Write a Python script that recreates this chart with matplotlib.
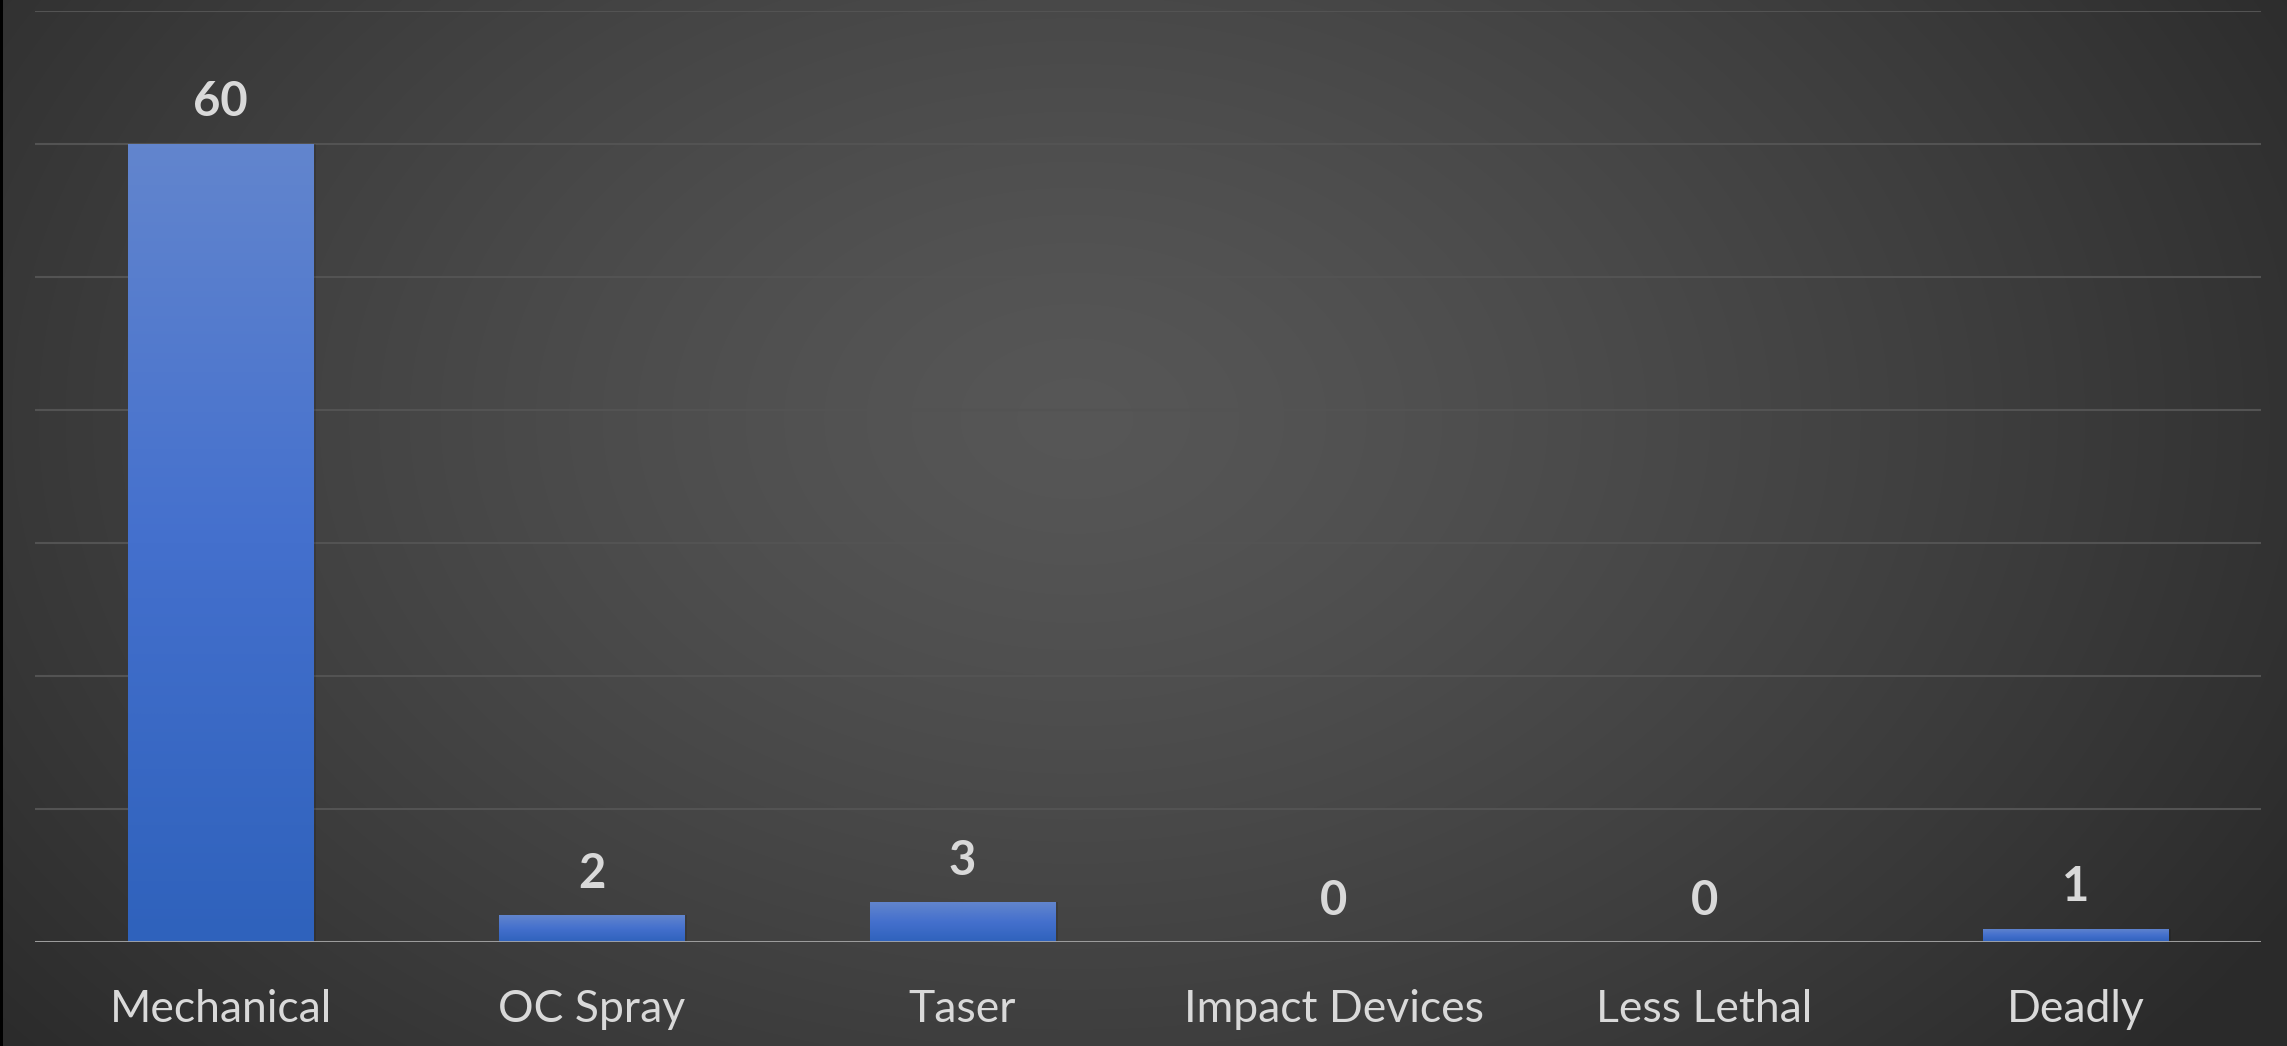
import numpy as np
import matplotlib
matplotlib.use("Agg")
from matplotlib import pyplot as plt
from matplotlib.colors import LinearSegmentedColormap

categories = ["Mechanical", "OC Spray", "Taser", "Impact Devices", "Less Lethal", "Deadly"]
counts = [60, 2, 3, 0, 0, 1]
y_max = 70
grid_step = 10

W, H = 2287, 1046
DPI = 100
TEXT = "#d9d9d9"

plt.rcParams["font.family"] = ["Lato", "DejaVu Sans"]

fig = plt.figure(figsize=(W / DPI, H / DPI), dpi=DPI)

# radial dark-gray background
bg = fig.add_axes([0, 0, 1, 1])
bg.set_axis_off()
yy, xx = np.mgrid[0:H, 0:W]
cx, cy = 0.47 * W, 0.40 * H
r = np.sqrt(((xx - cx) / (0.62 * W)) ** 2 + ((yy - cy) / (0.95 * H)) ** 2)
r = np.clip(r, 0, 1)
shade = 0.34 - (0.34 - 0.165) * r ** 1.3
img = np.dstack([shade, shade, shade])
img[:, :3] = 0.0
bg.imshow(img, extent=(0, W, H, 0), aspect="auto", interpolation="bilinear")
bg.set_xlim(0, W)
bg.set_ylim(H, 0)

# plotting area
left, right = 35 / W, 2261 / W
bottom, top = (H - 942) / H, (H - 10.5) / H
ax = fig.add_axes([left, bottom, right - left, top - bottom])
ax.patch.set_alpha(0)
for s in ax.spines.values():
    s.set_visible(False)

x = np.arange(len(categories))
ax.set_yticks(np.arange(0, y_max + 1, grid_step))
ax.yaxis.grid(True, color="#535353", linewidth=1.5)
ax.set_axisbelow(True)
ax.tick_params(axis="y", left=False, labelleft=False)
ax.tick_params(axis="x", bottom=False, pad=30, labelsize=32, labelcolor=TEXT)
ax.set_xticks(x)
ax.set_xticklabels(categories)

bar_cmap = LinearSegmentedColormap.from_list("bar", ["#2f62bc", "#4470cd", "#6285cd"])
grad = np.linspace(0, 1, 256).reshape(-1, 1)
bars = ax.bar(x, counts, width=0.5, color="none", edgecolor="none", zorder=3)
for b, v in zip(bars, counts):
    if v <= 0:
        continue
    x0, w = b.get_x(), b.get_width()
    # soft drop shadow
    ax.bar(x0 + w / 2 + 0.008, v, width=w, bottom=0, color="black", alpha=0.12, zorder=2)
    im = ax.imshow(grad, cmap=bar_cmap, aspect="auto", origin="lower",
                   extent=(x0, x0 + w, 0, v), zorder=3, interpolation="bilinear")
    im.set_clip_path(b)
ax.set_xlim(-0.5, len(categories) - 0.5)
ax.set_ylim(0, y_max)

ax.axhline(0, color="#a6a6a6", linewidth=2, zorder=4)

for xi, v in zip(x, counts):
    ax.annotate(str(v), (xi, v), xytext=(0, 14), textcoords="offset points",
                ha="center", va="bottom", fontsize=34, fontweight="bold", color=TEXT)

fig.savefig("out.png", dpi=DPI)
